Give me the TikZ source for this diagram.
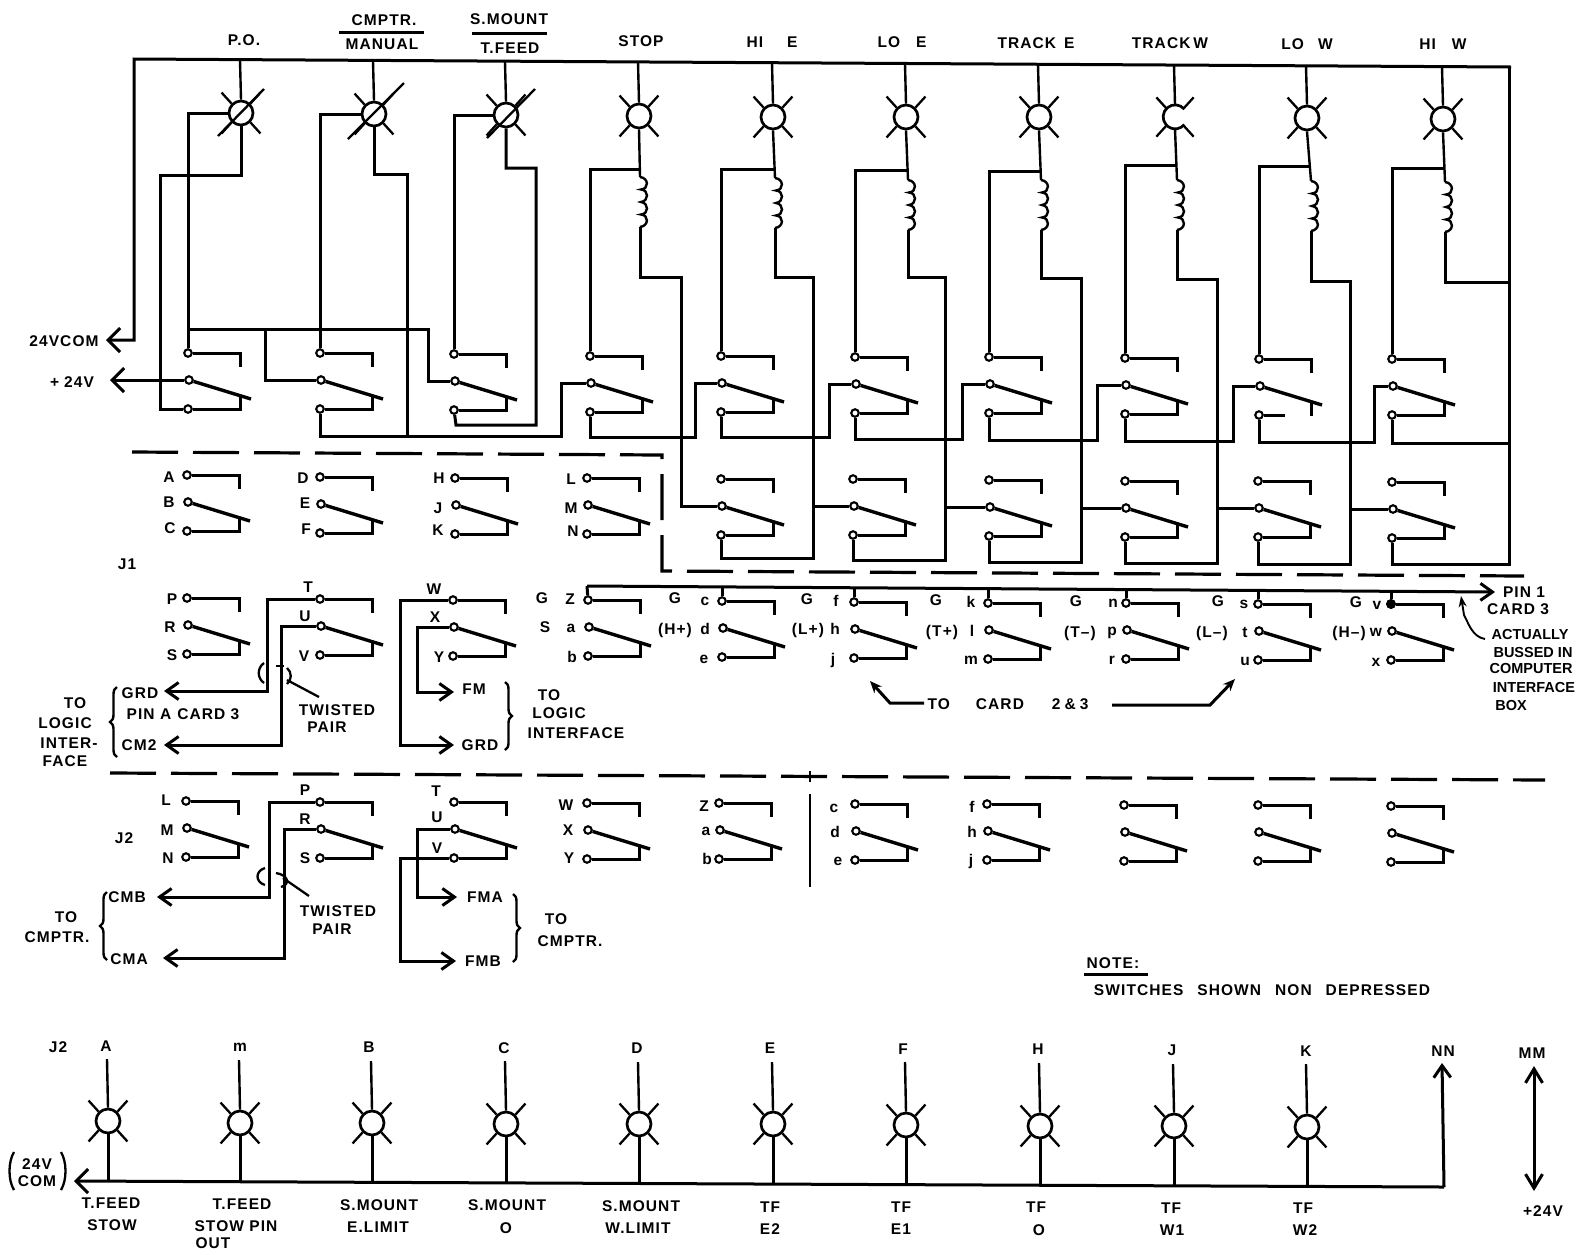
\documentclass[tikz,border=0pt]{standalone}
\usepackage{fontspec}
\usetikzlibrary{arrows.meta,decorations.pathreplacing}
\newfontfamily\labfont[LetterSpace=7]{Liberation Sans}
\newfontfamily\narfont[LetterSpace=0]{Liberation Sans}
\newcount\tn
\newcommand\T[3]{\global\advance\tn by 1 \node[lbl] (t\the\tn) at (#1,#2) {#3};}
\newcommand\Tn[3]{\global\advance\tn by 1 \node[lbl,font=\narfont\bfseries\fontsize{14.5}{16}\selectfont] (t\the\tn) at (#1,#2) {#3};}
% switch: name, x, y of upper contact
\newcommand\sw[3]{%
  \node[ct] (#1A) at (#2,#3) {};
  \node[ct] (#1B) at ({#2+1},{#3+27}) {};
  \node[ct] (#1C) at (#2,{#3+56}) {};
  \coordinate (#1P) at ({#2+52},#3);
  \coordinate (#1Q) at ({#2+52},{#3+14});
  \coordinate (#1R) at ({#2+52},{#3+56});
  \coordinate (#1S) at ({#2+52},{#3+43});
  \coordinate (#1U) at ({#2+63},{#3+46});
  \draw[wire] (#1A) -- (#1P) -- (#1Q);
  \draw[blade] (#1B) -- (#1U);
  \draw[wire] (#1C) -- (#1R) -- (#1S);
}
% same, with the broken lower contact
\newcommand\swb[3]{%
  \node[ct] (#1A) at (#2,#3) {};
  \node[ct] (#1B) at ({#2+1},{#3+27}) {};
  \node[ct] (#1C) at (#2,{#3+56}) {};
  \coordinate (#1P) at ({#2+52},#3);
  \coordinate (#1Q) at ({#2+52},{#3+14});
  \coordinate (#1R) at ({#2+26},{#3+56});
  \coordinate (#1S) at ({#2+52},{#3+43});
  \coordinate (#1V) at ({#2+52},{#3+57});
  \coordinate (#1U) at ({#2+63},{#3+46});
  \draw[wire] (#1A) -- (#1P) -- (#1Q);
  \draw[blade] (#1B) -- (#1U);
  \draw[wire] (#1C) -- (#1R);
  \draw[wire] (#1S) -- (#1V);
}
% rays of a lamp
\newcommand\rays[1]{%
  \draw[ray] (#1.45) -- ++(10,-11);
  \draw[ray] (#1.135) -- ++(-10,-11);
  \draw[ray] (#1.225) -- ++(-10,11);
  \draw[ray] (#1.315) -- ++(10,11);
}
% lamp: name, x, y, y of the end of its upper lead
\newcommand\lamp[4]{%
  \node[lampc] (#1) at (#2,#3) {};
  \coordinate (#1t) at ({#2-1},#4);
  \draw[lead] (#1t) -- (#1.north);
  \rays{#1}
}
% coil: name, x, y
\newcommand\coil[3]{%
  \coordinate (#1T) at (#2,#3);
  \coordinate (#1B) at (#2,{#3+50});
  \draw[lead] (#1T)
    .. controls ({#2+9},{#3+1}) and ({#2+9},{#3+12}) .. ({#2+1},{#3+12.5})
    .. controls ({#2+9},{#3+13}) and ({#2+9},{#3+24}) .. ({#2+1},{#3+25})
    .. controls ({#2+9},{#3+26}) and ({#2+9},{#3+37}) .. ({#2+1},{#3+37.5})
    .. controls ({#2+9},{#3+38}) and ({#2+9},{#3+49}) .. (#1B);
}
% stage: k, k+1, Vx, Vtop, Vbot, Hx, Hy
\newcommand\stage[7]{%
  \coordinate (V#1) at (#3,#4);
  \coordinate (W#1) at (#3,#5);
  \coordinate (H#1) at (#6,#7);
  \draw[wire] (C#1B) |- (V#1) -- (W#1) -| (Rb#1C);
  \draw[wire] (V#1 |- Rb#2B) -- (Rb#2B);
  \draw[wire] (Ra#1C) |- (H#1) |- (Ra#2B);
}
\tikzset{
  lbl/.style={font=\labfont\bfseries\fontsize{15.5}{17}\selectfont,inner sep=0pt,anchor=center,text=black},
  wire/.style={line width=3pt,line join=miter,line cap=butt,draw=black},
  blade/.style={line width=3.4pt,draw=black},
  lead/.style={line width=2.4pt,draw=black},
  ray/.style={line width=2.3pt,draw=black},
  thin wire/.style={line width=1.8pt,draw=black},
  ct/.style={circle,draw=black,fill=white,line width=2.1pt,minimum size=7.5pt,inner sep=0pt},
  lampc/.style={circle,draw=black,fill=white,line width=2.7pt,minimum size=24pt,inner sep=0pt},
  barbL/.style={-{Straight Barb[length=12pt,width=24pt]}},
  barbS/.style={-{Straight Barb[length=12pt,width=17pt]}},
  dsh/.style={line width=3.2pt,draw=black,dash pattern=on 46pt off 15pt},
  brc/.style={decorate,decoration={brace,amplitude=7pt},line width=2.4pt,draw=black},
}
\begin{document}
\begin{tikzpicture}[x=1pt,y=-1pt]
\useasboundingbox (0,0) rectangle (1584,1254);
\fill[white] (0,0) rectangle (1584,1254);

% ---------- switches
\sw{Ra1}{188}{353}\sw{Ra2}{320}{353}\sw{Ra3}{454}{354}\sw{Ra4}{590}{356}\sw{Ra5}{721}{356}
\sw{Ra6}{855}{357}\sw{Ra7}{989}{357}\sw{Ra8}{1125}{358}\swb{Ra9}{1259}{359}\sw{Ra10}{1392}{359}
\sw{Rb1}{187}{475}\sw{Rb2}{320}{477}\sw{Rb3}{455}{478}\sw{Rb4}{587}{478}\sw{Rb5}{721}{479}
\sw{Rb6}{853}{479}\sw{Rb7}{989}{480}\sw{Rb8}{1125}{481}\sw{Rb9}{1258}{481}\sw{Rb10}{1392}{482}
\sw{Rc1}{187}{598}\sw{Rc2}{320}{599}\sw{Rc3}{453}{600}\sw{Rc4}{588}{600}\sw{Rc5}{722}{601}
\sw{Rc6}{854}{602}\sw{Rc7}{988}{603}\sw{Rc8}{1126}{603}\sw{Rc9}{1258}{604}\sw{Rc10}{1391}{604}
\sw{Rd1}{186}{801}\sw{Rd2}{320}{802}\sw{Rd3}{454}{802}\sw{Rd4}{587}{803}\sw{Rd5}{719}{803}
\sw{Rd6}{855}{804}\sw{Rd7}{987}{804}\sw{Rd8}{1124}{805}\sw{Rd9}{1258}{805}\sw{Rd10}{1391}{806}
\node[ct,fill=black] (RcDot) at (Rc10A) {};

% ---------- top lamps
\coordinate (busL) at (134,59);
\coordinate (busR) at (1511,67);
\coordinate (comA) at (134,340);
\coordinate (comT) at (106,340);
\draw[wire,barbL] (busR) -- (busL) -- (comA) -- (comT);
\lamp{L1}{241}{113}{60}\lamp{L2}{374}{114}{61}\lamp{L3}{506}{115}{62}\lamp{L4}{639}{116}{62}\lamp{L5}{773}{117}{63}
\lamp{L6}{906}{117}{64}\lamp{L7}{1039}{117}{65}
\node[circle,minimum size=24pt,inner sep=0pt] (L8) at (1175,117) {};
\coordinate (L8t) at (1174,65);
\draw[lead] (L8t) -- (L8.north);
\draw[line width=2.7pt] (L8.40) arc[start angle=40,end angle=320,radius=12pt];
\rays{L8}
\lamp{L9}{1307}{118}{66}\lamp{L10}{1443}{119}{67}
% slashes through the first three lamps
\coordinate (sl1a) at (218,136);\coordinate (sl1b) at (264,89);
\coordinate (sl2a) at (348,139);\coordinate (sl2b) at (404,83);
\coordinate (sl3a) at (487,138);\coordinate (sl3b) at (535,89);
\draw[ray] (sl1a) -- (sl1b);\draw[ray] (sl2a) -- (sl2b);\draw[ray] (sl3a) -- (sl3b);

% ---------- coils
\coil{C4}{640}{177}\coil{C5}{775}{178}\coil{C6}{908}{180}\coil{C7}{1041}{180}
\coil{C8}{1177}{180}\coil{C9}{1311}{181}\coil{C10}{1445}{182}
\foreach \k in {4,...,10}{\draw[lead] (L\k.south) -- (C\k T);}

% ---------- first three columns
\draw[wire] (L1.west) -| (Ra1A);
\draw[wire] (L1.south) |- (160,175) |- (Ra1C);
\draw[wire] (L2.west) -| (Ra2A);
\draw[wire] (L2.south) |- (407,174) -- (407,436);
\draw[wire] (Ra2C) |- (561,436) |- (Ra4B);
\draw[wire] (L3.west) -| (Ra3A);
\draw[wire] (L3.south) |- (536,168) |- (456,425) -- (Ra3C);
\coordinate (hubA) at (189,329);
\coordinate (hubB) at (428,329);
\draw[wire] (hubA) -- (hubB) |- (Ra3B);
\draw[wire] (265,329) |- (Ra2B);
\draw[wire,barbL] (Ra1B) -- (110,380);

% ---------- branches to the upper contacts
\draw[wire] (640,169) -| (Ra4A);
\draw[wire] (774,169) -| (Ra5A);
\draw[wire] (907,170) -| (Ra6A);
\draw[wire] (1040,171) -| (Ra7A);
\draw[wire] (1176,165) -| (Ra8A);
\draw[wire] (1309,166) -| (Ra9A);
\draw[wire] (1444,168) -| (Ra10A);

% ---------- chain of relay stages
\draw[wire] (C4B) |- (681,277) |- (Rb5B);
\draw[wire] (Ra4C) |- (695,437) |- (Ra5B);
\stage{5}{6}{813}{277}{558}{829}{437}
\stage{6}{7}{945}{277}{560}{962}{439}
\stage{7}{8}{1081}{278}{562}{1097}{440}
\stage{8}{9}{1217}{279}{563}{1233}{441}
\stage{9}{10}{1350}{281}{564}{1374}{442}
\draw[wire] (C10B) |- (1509,282);
\draw[wire] (1509,67) -- (1509,564) -| (Rb10C);
\draw[wire] (Ra10C) |- (1509,443);

% ---------- dashed boundaries
\coordinate (da) at (132,452);\coordinate (db) at (662,455);\coordinate (dc) at (662,571);\coordinate (dd) at (1524,576);
\draw[dsh] (da) -- (db) -- (dc) -- (dd);
\coordinate (de) at (110,773);\coordinate (df) at (1545,780);
\draw[dsh] (de) -- (df);
\coordinate (sepA) at (810,771);\coordinate (sepB) at (810,782);\coordinate (sepC) at (810,794);\coordinate (sepD) at (810,887);
\draw[thin wire] (sepA) -- (sepB);
\draw[thin wire] (sepC) -- (sepD);

% ---------- pin 1 bus
\coordinate (pinS) at (587,586);\coordinate (pinE) at (1495,592);
\draw[wire,barbS] (pinS) -- (pinE);
\draw[wire] (Rc4A) -- (587,586);
\draw[wire] (Rc5A) -- ++(0,-14);
\draw[wire] (Rc6A) -- ++(0,-14);
\draw[wire] (Rc7A) -- ++(0,-14);
\draw[wire] (Rc8A) -- ++(0,-13);
\draw[wire] (Rc9A) -- ++(0,-14);
\draw[wire] (Rc10A) -- ++(0,-13);
\coordinate (actE) at (1485,639);\coordinate (actT) at (1461,596);
\draw[line width=1.9pt,-{Stealth[length=11pt,width=8pt]}] (actE) .. controls (1472,637) and (1468,622) .. (1464,615) -- (actT);

% ---------- J1 wiring
\draw[wire,barbS] (Rc2A) -| (267,691) -- (164,691);
\draw[wire,barbS] (Rc2B) -| (281,745) -- (164,745);
\draw[wire,barbS] (Rc3A) -| (400,745) -- (454,745);
\draw[wire,barbS] (Rc3B) -| (417,692) -- (454,692);
\coordinate (twa) at (264,663);\coordinate (twb) at (264,683);
\coordinate (twc) at (287,668);\coordinate (twd) at (287,684);
\coordinate (twe) at (287,680);\coordinate (twf) at (319,697);
\draw[ray] (twa) .. controls (257,668) and (257,678) .. (twb);
\draw[ray] (twc) .. controls (292,672) and (292,680) .. (twd);
\draw[ray] (276,666) -- (284,666);
\draw[ray] (twe) -- (twf);

% ---------- J2 wiring
\draw[wire,barbS] (Rd2A) -| (269,897) -- (157,897);
\draw[wire,barbS] (Rd2B) -| (284,958) -- (163,958);
\draw[wire,barbS] (Rd3B) -| (417,897) -- (457,897);
\draw[wire,barbS] (Rd3C) -| (400,961) -- (456,961);
\coordinate (tga) at (265,868);\coordinate (tgb) at (265,885);
\coordinate (tgc) at (276,873);\coordinate (tgd) at (281,887);
\coordinate (tge) at (283,878);\coordinate (tgf) at (309,896);
\draw[ray] (tga) .. controls (255,871) and (255,882) .. (tgb);
\draw[ray] (tgc) .. controls (288,875) and (291,884) .. (tgd);
\draw[ray] (tge) -- (tgf);

% ---------- arrows to card 2 & 3
\coordinate (caA) at (924,703);\coordinate (caB) at (890,703);\coordinate (caC) at (870,681);
\draw[wire,-{Stealth[length=12pt,width=10pt]}] (caA) -- (caB) -- (caC);
\coordinate (cbA) at (1112,705);\coordinate (cbB) at (1210,705);\coordinate (cbC) at (1235,679);
\draw[wire,-{Stealth[length=12pt,width=10pt]}] (cbA) -- (cbB) -- (cbC);

% ---------- braces
\coordinate (b1a) at (117,757);\coordinate (b1b) at (117,687);
\draw[brc] (b1a) -- (b1b);
\coordinate (b2a) at (505,682);\coordinate (b2b) at (505,750);
\draw[brc] (b2a) -- (b2b);
\coordinate (b3a) at (107,960);\coordinate (b3b) at (107,892);
\draw[brc] (b3a) -- (b3b);
\coordinate (b4a) at (513,894);\coordinate (b4b) at (513,962);
\draw[brc] (b4a) -- (b4b);

% ---------- label rules
\coordinate (u1a) at (339,32);\coordinate (u1b) at (424,32);
\draw[wire] (u1a) -- (u1b);
\coordinate (u2a) at (472,33);\coordinate (u2b) at (547,33);
\draw[wire] (u2a) -- (u2b);
\coordinate (u3a) at (1084,974);\coordinate (u3b) at (1148,974);
\draw[wire] (u3a) -- (u3b);

% ---------- bottom lamps
\lamp{M1}{108}{1121}{1059}\lamp{M2}{240}{1123}{1060}\lamp{M3}{372}{1123}{1061}\lamp{M4}{506}{1124}{1061}\lamp{M5}{639}{1124}{1062}
\lamp{M6}{773}{1124}{1062}\lamp{M7}{906}{1125}{1062}\lamp{M8}{1040}{1126}{1063}\lamp{M9}{1174}{1126}{1064}\lamp{M10}{1307}{1127}{1064}
\coordinate (bbL) at (74,1181);\coordinate (bbR) at (1444,1187);\coordinate (nnT) at (1442,1063);
\draw[wire,barbL] (bbR) -- (bbL);
\draw[wire,barbS] (bbR) -- (nnT);
\draw[wire] (M1.south) -- ++(0,47);
\draw[wire] (M2.south) -- ++(0,46);
\draw[wire] (M3.south) -- ++(0,46);
\draw[wire] (M4.south) -- ++(0,46);
\draw[wire] (M5.south) -- ++(0,46);
\draw[wire] (M6.south) -- ++(0,46);
\draw[wire] (M7.south) -- ++(0,46);
\draw[wire] (M8.south) -- ++(0,46);
\draw[wire] (M9.south) -- ++(0,46);
\draw[wire] (M10.south) -- ++(0,46);
\coordinate (mmA) at (1534,1066);\coordinate (mmB) at (1534,1191);
\draw[wire,{Straight Barb[length=14pt,width=17pt]}-{Straight Barb[length=14pt,width=17pt]}] (mmA) -- (mmB);
\coordinate (pa) at (14,1152);\coordinate (pb) at (14,1190);
\coordinate (pc) at (61,1152);\coordinate (pd) at (61,1190);
\draw[ray] (pa) .. controls (8,1162) and (8,1180) .. (pb);
\draw[ray] (pc) .. controls (67,1162) and (67,1180) .. (pd);

% ---------- text, top
\T{244}{40}{P.O.}\T{384}{20}{CMPTR.}\T{382}{44}{MANUAL}\T{509}{19}{S.MOUNT}\T{510}{48}{T.FEED}
\T{641}{41}{STOP}\T{772}{42}{HI\hspace{24pt}E}\T{902}{42}{LO\hspace{16pt}E}\T{1036}{43}{TRACK\hspace{8pt}E}
\T{1170}{43}{TRACK\hspace{3pt}W}\T{1307}{44}{LO\hspace{14pt}W}\T{1443}{44}{HI\hspace{16pt}W}
\T{64}{341}{24VCOM}\T{72}{382}{+\hspace{5pt}24V}
% row b
\T{169}{477}{A}\T{169}{502}{B}\T{170}{528}{C}\T{303}{478}{D}\T{305}{503}{E}\T{306}{529}{F}
\T{439}{478}{H}\T{438}{508}{J}\T{438}{530}{K}\T{571}{479}{L}\T{571}{508}{M}\T{573}{531}{N}
\T{127}{564}{J1}
% row c
\T{172}{599}{P}\T{170}{627}{R}\T{172}{655}{S}\T{308}{587}{T}\T{305}{616}{U}\T{304}{656}{V}
\T{434}{589}{W}\T{435}{617}{X}\T{439}{657}{Y}
\T{542}{598}{G}\T{570}{599}{Z}\T{545}{627}{S}\T{571}{628}{a}\T{572}{657}{b}
\T{675}{598}{G}\T{705}{601}{c}\T{675}{630}{(H+)}\T{705}{629}{d}\T{704}{659}{e}
\T{807}{599}{G}\T{836}{601}{f}\T{808}{630}{(L+)}\T{835}{629}{h}\T{833}{660}{j}
\T{936}{600}{G}\T{971}{602}{k}\T{942}{632}{(T+)}\T{972}{631}{l}\T{971}{660}{m}
\T{1076}{601}{G}\T{1113}{603}{n}\T{1080}{633}{(T–)}\T{1112}{633}{p}\T{1112}{660}{r}
\T{1218}{601}{G}\T{1244}{604}{s}\T{1212}{633}{(L–)}\T{1245}{632}{t}\T{1245}{661}{u}
\T{1356}{602}{G}\T{1377}{605}{v}\T{1349}{633}{(H–)}\T{1376}{632}{w}\T{1376}{662}{x}
\T{1524}{592}{PIN 1}\T{1518}{609}{CARD 3}
\Tn{1530}{634}{ACTUALLY}\Tn{1533}{652}{BUSSED IN}\Tn{1531}{668}{COMPUTER}\Tn{1534}{687}{INTERFACE}\Tn{1511}{705}{BOX}
\T{1008}{704}{TO\hspace{26pt}CARD\hspace{28pt}2\hspace{4pt}\&\hspace{4pt}3}
% J1 lower left
\T{140}{693}{GRD}\T{183}{714}{PIN A\hspace{6pt}CARD 3}\T{139}{745}{CM2}
\T{75}{703}{TO}\T{65}{723}{LOGIC}\T{69}{743}{INTER-}\T{65}{761}{FACE}
\T{337}{710}{TWISTED}\T{327}{727}{PAIR}
\T{474}{689}{FM}\T{480}{745}{GRD}
\T{549}{695}{TO}\T{559}{713}{LOGIC}\T{576}{733}{INTERFACE}
% row d
\T{166}{800}{L}\T{167}{830}{M}\T{168}{858}{N}\T{124}{838}{J2}
\T{305}{790}{P}\T{305}{819}{R}\T{305}{858}{S}\T{436}{791}{T}\T{437}{817}{U}\T{437}{848}{V}
\T{566}{805}{W}\T{568}{830}{X}\T{569}{858}{Y}\T{704}{806}{Z}\T{706}{831}{a}\T{707}{859}{b}
\T{834}{808}{c}\T{835}{832}{d}\T{838}{861}{e}\T{972}{807}{f}\T{972}{832}{h}\T{971}{861}{j}
% J2 lower left
\T{127}{897}{CMB}\T{129}{959}{CMA}\T{66}{917}{TO}\T{57}{937}{CMPTR.}
\T{338}{911}{TWISTED}\T{332}{929}{PAIR}
\T{485}{897}{FMA}\T{483}{961}{FMB}\T{556}{919}{TO}\T{570}{941}{CMPTR.}
% note
\T{1113}{963}{NOTE:}\T{1262}{990}{SWITCHES\hspace{14pt}SHOWN\hspace{14pt}NON\hspace{14pt}DEPRESSED}
% bottom row
\T{58}{1047}{J2}\T{106}{1046}{A}\T{240}{1047}{m}\T{369}{1047}{B}\T{504}{1048}{C}\T{637}{1048}{D}\T{770}{1048}{E}
\T{903}{1049}{F}\T{1038}{1049}{H}\T{1172}{1050}{J}\T{1306}{1051}{K}\T{1443}{1051}{NN}\T{1532}{1053}{MM}
\T{37}{1164}{24V}\T{37}{1181}{COM}
\T{111}{1203}{T.FEED}\T{112}{1225}{STOW}
\T{242}{1204}{T.FEED}\T{236}{1226}{STOW PIN}\T{213}{1243}{OUT}
\T{379}{1205}{S.MOUNT}\T{378}{1227}{E.LIMIT}
\T{507}{1205}{S.MOUNT}\T{506}{1228}{O}
\T{641}{1206}{S.MOUNT}\T{638}{1228}{W.LIMIT}
\T{770}{1207}{TF}\T{770}{1229}{E2}
\T{901}{1207}{TF}\T{901}{1229}{E1}
\T{1036}{1207}{TF}\T{1039}{1230}{O}
\T{1171}{1208}{TF}\T{1172}{1230}{W1}
\T{1303}{1208}{TF}\T{1305}{1230}{W2}
\T{1543}{1211}{+24V}
\end{tikzpicture}
\end{document}
